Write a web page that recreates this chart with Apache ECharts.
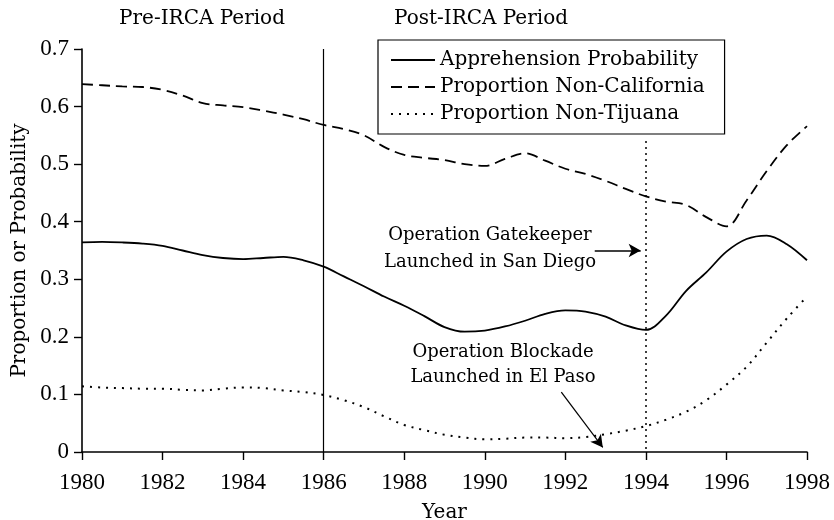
<!DOCTYPE html>
<html>
<head>
<meta charset="utf-8">
<script src="https://cdn.jsdelivr.net/npm/echarts@6/dist/echarts.min.js"></script>
<style>
  html, body { margin: 0; padding: 0; background: #fff; }
  #chart { width: 834px; height: 520px; }
</style>
</head>
<body>
<div id="chart"></div>
<script>
// half-year sample points
const years = [
  1980, 1980.5, 1981, 1981.5, 1982, 1982.5, 1983, 1983.5, 1984, 1984.5,
  1985, 1985.5, 1986, 1986.5, 1987, 1987.5, 1988, 1988.5, 1989, 1989.5,
  1990, 1990.5, 1991, 1991.5, 1992, 1992.5, 1993, 1993.5, 1994, 1994.5,
  1995, 1995.5, 1996, 1996.5, 1997, 1997.5, 1998
]

const apprehension = [
  0.364, 0.365, 0.364, 0.362, 0.358, 0.350, 0.342, 0.337, 0.335, 0.337,
  0.339, 0.333, 0.322, 0.305, 0.288, 0.270, 0.254, 0.236, 0.217, 0.209,
  0.211, 0.218, 0.228, 0.240, 0.246, 0.244, 0.235, 0.220, 0.212, 0.237,
  0.280, 0.312, 0.348, 0.370, 0.376, 0.361, 0.333
]

const nonCalifornia = [
  0.639, 0.637, 0.635, 0.634, 0.629, 0.619, 0.606, 0.602, 0.599, 0.593,
  0.586, 0.578, 0.568, 0.561, 0.550, 0.530, 0.516, 0.511, 0.507, 0.500,
  0.497, 0.509, 0.519, 0.506, 0.492, 0.483, 0.471, 0.457, 0.444, 0.435,
  0.429, 0.408, 0.392, 0.437, 0.488, 0.533, 0.566
]

const nonTijuana = [
  0.114, 0.112, 0.111, 0.110, 0.110, 0.108, 0.107, 0.110, 0.112, 0.111,
  0.107, 0.104, 0.099, 0.090, 0.078, 0.062, 0.047, 0.038, 0.030, 0.025,
  0.022, 0.023, 0.025, 0.025, 0.024, 0.026, 0.031, 0.037, 0.045, 0.056,
  0.070, 0.090, 0.117, 0.148, 0.190, 0.232, 0.270
]

const seriesNames = ['Apprehension Probability', 'Proportion Non-California', 'Proportion Non-Tijuana']
const ircaYear = 1986
const gatekeeperYear = 1994

const FONT = 'DejaVu Serif'
const NUM_FONT = 'Liberation Serif'
const INK = '#000'

const chart = echarts.init(document.getElementById('chart'))

const toPairs = (vals) => years.map((y, i) => [y, vals[i]])

const option = {
  animation: false,
  backgroundColor: '#fff',
  textStyle: { fontFamily: FONT, color: INK },
  grid: { left: 82, right: 27, top: 49, bottom: 68, containLabel: false, outerBoundsMode: 'none' },
  legend: {
    data: seriesNames,
    orient: 'vertical',
    left: 378,
    top: 40,
    padding: [9, 20, 9, 12],
    itemWidth: 44,
    itemHeight: 14,
    itemGap: 5,
    borderColor: INK,
    borderWidth: 1.2,
    backgroundColor: '#fff',
    itemStyle: { color: 'rgba(0,0,0,0)', borderWidth: 0 },
    textStyle: { fontFamily: FONT, fontSize: 20, color: INK, lineHeight: 22 }
  },
  xAxis: {
    type: 'value',
    min: 1980,
    max: 1998,
    interval: 2,
    name: 'Year',
    nameLocation: 'middle',
    nameGap: 51,
    nameTextStyle: { fontFamily: FONT, fontSize: 20, color: INK },
    axisLine: { lineStyle: { color: INK, width: 1.6 } },
    axisTick: { length: 8, lineStyle: { color: INK, width: 1.4 } },
    axisLabel: {
      fontFamily: NUM_FONT, fontSize: 23, color: INK, margin: 19,
      formatter: (v) => String(v)
    },
    splitLine: { show: false }
  },
  yAxis: {
    type: 'value',
    min: 0,
    max: 0.7,
    interval: 0.1,
    name: 'Proportion or Probability',
    nameLocation: 'middle',
    nameGap: 51,
    nameTextStyle: { fontFamily: FONT, fontSize: 20, color: INK },
    axisLine: { show: true, lineStyle: { color: INK, width: 1.6 } },
    axisTick: { show: true, length: 8, lineStyle: { color: INK, width: 1.4 } },
    axisLabel: { fontFamily: NUM_FONT, fontSize: 23, color: INK, margin: 13 },
    splitLine: { show: false }
  },
  series: [
    {
      name: seriesNames[0],
      type: 'line',
      smooth: 0.35,
      symbol: 'none',
      data: toPairs(apprehension),
      lineStyle: { color: INK, width: 1.8 },
      itemStyle: { color: INK },
      markLine: {
        silent: true,
        symbol: ['none', 'none'],
        label: { show: false },
        data: [
          [
            { coord: [ircaYear, 0.7], lineStyle: { color: INK, width: 1.2, type: 'solid' } },
            { coord: [ircaYear, 0] }
          ],
          [
            { coord: [gatekeeperYear, 0.54], lineStyle: { color: INK, width: 1.5, type: [2, 4] } },
            { coord: [gatekeeperYear, 0] }
          ],
          [
            { coord: [1992.73, 0.35], lineStyle: { color: INK, width: 1.5, type: 'solid' } },
            { coord: [1993.87, 0.35], symbol: 'arrow', symbolSize: [10, 12] }
          ],
          [
            { coord: [1991.9, 0.104], lineStyle: { color: INK, width: 1.2, type: 'solid' } },
            { coord: [1992.93, 0.008], symbol: 'arrow', symbolSize: [10, 12] }
          ]
        ]
      }
    },
    {
      name: seriesNames[1],
      type: 'line',
      smooth: 0.35,
      symbol: 'none',
      data: toPairs(nonCalifornia),
      lineStyle: { color: INK, width: 1.8, type: [11, 6] },
      itemStyle: { color: INK }
    },
    {
      name: seriesNames[2],
      type: 'line',
      smooth: 0.35,
      symbol: 'none',
      data: toPairs(nonTijuana),
      lineStyle: { color: INK, width: 2, type: [2, 6] },
      itemStyle: { color: INK }
    }
  ],
  graphic: [
    {
      type: 'text',
      style: { x: 202, y: 19, text: 'Pre-IRCA Period', font: '20px "DejaVu Serif"', fill: INK, align: 'center', verticalAlign: 'middle' }
    },
    {
      type: 'text',
      style: { x: 481, y: 19, text: 'Post-IRCA Period', font: '20px "DejaVu Serif"', fill: INK, align: 'center', verticalAlign: 'middle' }
    },
    {
      type: 'text',
      style: { x: 490, y: 249, text: 'Operation Gatekeeper\nLaunched in San Diego', font: '18px "DejaVu Serif"', lineHeight: 27, fill: INK, align: 'center', verticalAlign: 'middle' }
    },
    {
      type: 'text',
      style: { x: 503, y: 365, text: 'Operation Blockade\nLaunched in El Paso', font: '18px "DejaVu Serif"', lineHeight: 25, fill: INK, align: 'center', verticalAlign: 'middle' }
    }
  ]
}

chart.setOption(option)
</script>
</body>
</html>
